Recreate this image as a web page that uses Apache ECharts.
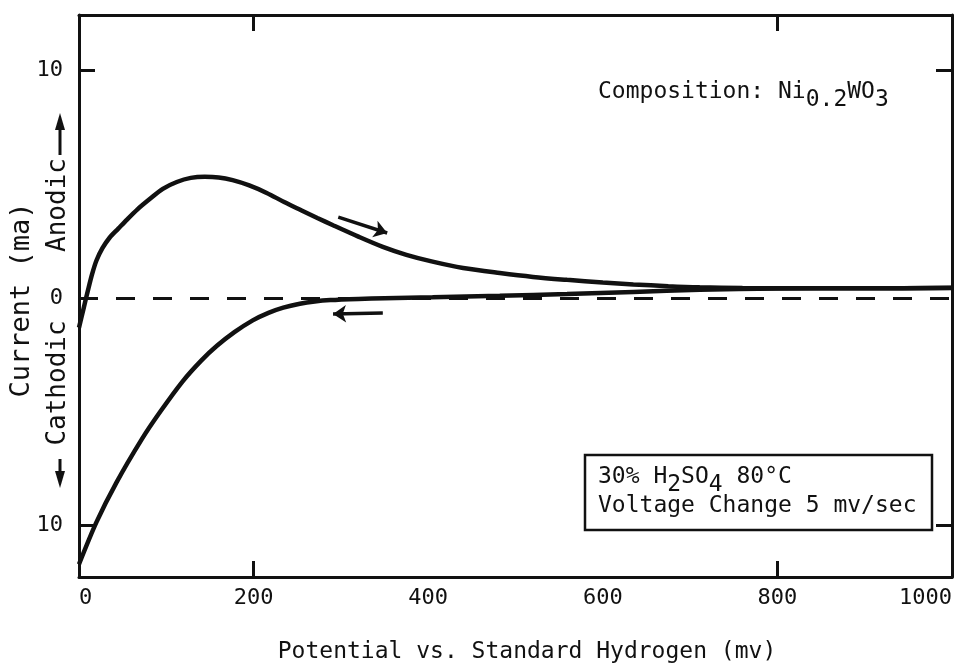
<!DOCTYPE html>
<html>
<head>
<meta charset="utf-8">
<script src="https://cdn.jsdelivr.net/npm/echarts@6/dist/echarts.min.js"></script>
<style>
html,body{margin:0;padding:0;background:#fff;}
#chart{width:966px;height:670px;}
</style>
</head>
<body>
<div id="chart"></div>
<script>
// ---- data ----
var xTickLabels = [0, 200, 400, 600, 800, 1000];
var xMarkTicks = [200, 800];
var yTickLabels = [-10, 0, 10];
var yMarkTicks = [-10, 10];

// forward (anodic-going) sweep
var anodicX = [0, 5, 10, 15, 20, 27, 35, 45, 55, 67, 81, 96, 112, 128, 144, 160, 176, 195, 215, 235, 255, 273, 291, 320, 348, 375, 405, 440, 482, 520, 559, 600, 635, 675, 711, 760, 800, 900, 1000];
var anodicY = [-1.3, -0.5, 0.3, 1.05, 1.65, 2.2, 2.65, 3.05, 3.45, 3.9, 4.35, 4.8, 5.1, 5.28, 5.33, 5.3, 5.18, 4.95, 4.62, 4.22, 3.85, 3.52, 3.2, 2.7, 2.25, 1.9, 1.6, 1.32, 1.1, 0.93, 0.8, 0.68, 0.6, 0.52, 0.47, 0.44, 0.43, 0.43, 0.45];

// reverse (cathodic-going) sweep
var cathodicX = [0, 20, 43, 72, 93, 119, 140, 158, 178, 199, 217, 234, 253, 270, 288, 320, 350, 405, 482, 559, 635, 711, 800, 900, 1000];
var cathodicY = [-11.7, -9.85, -8.1, -6.2, -5.0, -3.65, -2.75, -2.1, -1.5, -0.98, -0.65, -0.42, -0.25, -0.15, -0.09, -0.04, -0.01, 0.03, 0.1, 0.18, 0.27, 0.36, 0.42, 0.43, 0.44];

// direction arrows [x, y] start -> end
var arrowFwd = [[297, 3.56], [353, 2.86]];
var arrowRev = [[348, -0.66], [291, -0.70]];

var xTitle = 'Potential vs. Standard Hydrogen (mv)';
var yTitle = 'Current (ma)';

// ---- chart ----
var INK = '#111';
var MONO = '"DejaVu Sans Mono", "Liberation Mono", monospace';

function pairs(xs, ys) { return xs.map(function (x, i) { return [x, ys[i]]; }); }

var chart = echarts.init(document.getElementById('chart'), null, {renderer: 'canvas'});

var axisLineStyle = {show: true, onZero: false, lineStyle: {color: INK, width: 3}};
var tickStyle = function (vals) {
  return {show: true, inside: true, length: 16, lineStyle: {color: INK, width: 3}, customValues: vals};
};

var option = {
  backgroundColor: '#fff',
  animation: false,
  grid: {left: 79, right: 14, top: 15, bottom: 93},
  xAxis: [{
    type: 'value', min: 0, max: 1000, position: 'bottom',
    axisLine: axisLineStyle,
    axisTick: tickStyle(xMarkTicks),
    axisLabel: {show: true, customValues: xTickLabels, color: INK, fontFamily: MONO, fontSize: 22, margin: 10,
      alignMinLabel: 'left', alignMaxLabel: 'right', formatter: function (v) { return String(v); }},
    splitLine: {show: false}
  }, {
    type: 'value', min: 0, max: 1000, position: 'top',
    axisLine: axisLineStyle,
    axisTick: tickStyle(xMarkTicks),
    axisLabel: {show: false},
    splitLine: {show: false}
  }],
  yAxis: [{
    type: 'value', min: -12.26, max: 12.44, position: 'left',
    axisLine: axisLineStyle,
    axisTick: tickStyle(yMarkTicks),
    axisLabel: {show: true, customValues: yTickLabels, color: INK, fontFamily: MONO, fontSize: 22, margin: 16,
      formatter: function (v) { return String(Math.abs(v)); }},
    splitLine: {show: false}
  }, {
    type: 'value', min: -12.26, max: 12.44, position: 'right',
    axisLine: axisLineStyle,
    axisTick: tickStyle(yMarkTicks),
    axisLabel: {show: false},
    splitLine: {show: false}
  }],
  series: [{
    name: 'forward', type: 'line', data: pairs(anodicX, anodicY),
    smooth: 0.3, showSymbol: false, symbol: 'none',
    lineStyle: {color: INK, width: 4.5}, z: 3,
    markLine: {
      silent: true, symbol: ['none', 'none'], label: {show: false},
      lineStyle: {color: INK, width: 3, type: [19, 18]},
      data: [{yAxis: 0}]
    }
  }, {
    name: 'reverse', type: 'line', data: pairs(cathodicX, cathodicY),
    smooth: 0.3, showSymbol: false, symbol: 'none',
    lineStyle: {color: INK, width: 4.5}, z: 3,
    markLine: {
      silent: true, symbol: ['none', 'arrow'], symbolSize: 13, label: {show: false},
      lineStyle: {color: INK, width: 3.5, type: 'solid'},
      data: [
        [{coord: arrowFwd[0]}, {coord: arrowFwd[1]}],
        [{coord: arrowRev[0]}, {coord: arrowRev[1]}]
      ]
    }
  }],
  graphic: [
    {
      type: 'text', left: 598, top: 81,
      style: {
        text: '{n|Composition: Ni}{s|0.2}{n|WO}{s|3}',
        fill: INK,
        rich: {
          n: {fontFamily: MONO, fontSize: 23, fill: INK, padding: [0, 0, 8, 0]},
          s: {fontFamily: MONO, fontSize: 23, fill: INK, padding: [8, 0, 0, 0]}
        }
      }
    },
    {
      type: 'rect', shape: {x: 585, y: 455, width: 347, height: 75},
      style: {fill: 'none', stroke: INK, lineWidth: 2.5}
    },
    {
      type: 'text', left: 598, top: 466,
      style: {
        text: '{n|30% H}{s|2}{n|SO}{s|4}{n| 80°C}',
        fill: INK,
        rich: {
          n: {fontFamily: MONO, fontSize: 23, fill: INK, padding: [0, 0, 8, 0]},
          s: {fontFamily: MONO, fontSize: 23, fill: INK, padding: [8, 0, 0, 0]}
        }
      }
    },
    {
      type: 'text', x: 598, y: 506,
      style: {text: 'Voltage Change 5 mv/sec', fill: INK, fontFamily: MONO, fontSize: 23,
        align: 'left', verticalAlign: 'middle'}
    },
    {
      type: 'text', x: 527, y: 652,
      style: {text: xTitle, fill: INK, fontFamily: MONO, fontSize: 23, align: 'center', verticalAlign: 'middle'}
    },
    {
      type: 'text', x: 22, y: 300, rotation: Math.PI / 2,
      style: {text: yTitle, fill: INK, fontFamily: MONO, fontSize: 27, align: 'center', verticalAlign: 'middle'}
    },
    {
      type: 'text', x: 58, y: 205, rotation: Math.PI / 2,
      style: {text: 'Anodic', fill: INK, fontFamily: MONO, fontSize: 26, align: 'center', verticalAlign: 'middle'}
    },
    {
      type: 'text', x: 58, y: 383, rotation: Math.PI / 2,
      style: {text: 'Cathodic', fill: INK, fontFamily: MONO, fontSize: 26, align: 'center', verticalAlign: 'middle'}
    },
    {type: 'line', shape: {x1: 60, y1: 155, x2: 60, y2: 126}, style: {stroke: INK, lineWidth: 3}},
    {type: 'polygon', shape: {points: [[60, 113], [55, 130], [65, 130]]}, style: {fill: INK}},
    {type: 'line', shape: {x1: 60, y1: 459, x2: 60, y2: 474}, style: {stroke: INK, lineWidth: 3}},
    {type: 'polygon', shape: {points: [[60, 488], [55, 471], [65, 471]]}, style: {fill: INK}}
  ]
};

chart.setOption(option);
</script>
</body>
</html>
